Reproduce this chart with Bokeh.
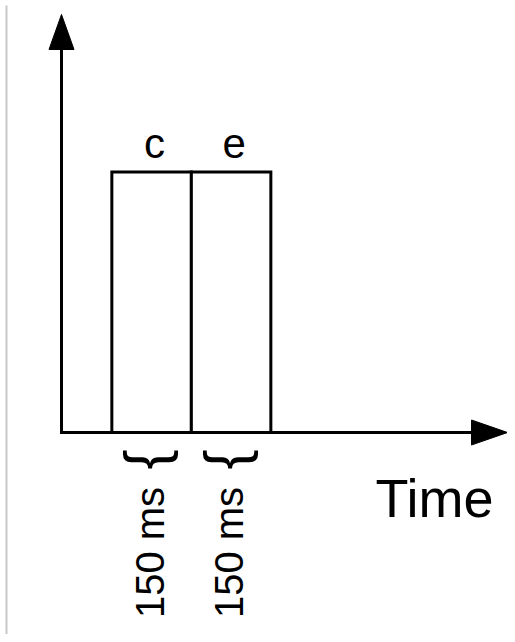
import math
from bokeh.plotting import figure
from bokeh.models import Range1d, ColumnDataSource
from bokeh.core.properties import value
from bokeh.embed import file_html
from bokeh.resources import INLINE

# ---- data ----
stimuli = ["c", "e"]
onsets_ms = [95, 245]
durations_ms = [150, 150]
amplitude = [1.0, 1.0]
duration_labels = ["150 ms", "150 ms"]
axis_label = "Time"

# ---- layout (pixel scale of the schematic) ----
W, H = 507, 634
KX = 0.53      # px per ms
KY = 260.5     # px per amplitude unit
ORIGIN_PX = (61, 432)
X0 = -ORIGIN_PX[0] / KX
X1 = X0 + W / KX
Y1 = ORIGIN_PX[1] / KY
Y0 = Y1 - H / KY

p = figure(width=W, height=H, output_backend="svg", toolbar_location=None,
           x_range=Range1d(X0, X1), y_range=Range1d(Y0, Y1),
           min_border=0, min_border_left=0, min_border_right=0,
           min_border_top=0, min_border_bottom=0)
p.axis.visible = False
p.grid.visible = False
p.outline_line_color = None
p.background_fill_color = "white"
p.border_fill_color = "white"

FONT = value("Liberation Sans")

# faint frame line at left edge
p.line([X0 + 6 / KX] * 2, [Y0, Y1 - 5 / KY], line_color="#c8c8c8", line_width=2)

# bars
lefts = [o for o in onsets_ms]
rights = [o + d for o, d in zip(onsets_ms, durations_ms)]
centers = [(l + r) / 2 for l, r in zip(lefts, rights)]
src = ColumnDataSource(dict(left=lefts, right=rights, top=amplitude,
                            bottom=[0] * len(lefts), center=centers,
                            stim=stimuli, dur=duration_labels))
p.quad(left="left", right="right", top="top", bottom="bottom", source=src,
       fill_color="white", line_color="black", line_width=3, line_join="miter")

# axes with arrows
y_tip = (ORIGIN_PX[1] - 14) / KY
x_tip = (507 - ORIGIN_PX[0]) / KX
head_len_y = 35 / KY
head_len_x = 36 / KX
half_w_x = 12.5 / KX
half_w_y = 12.5 / KY
p.line([0, 0, x_tip - head_len_x], [y_tip - head_len_y, 0, 0],
       line_color="black", line_width=3, line_join="miter")
p.patch([-half_w_x, 0, half_w_x], [y_tip - head_len_y, y_tip, y_tip - head_len_y],
        fill_color="black", line_color="black", line_width=1)
p.patch([x_tip - head_len_x, x_tip, x_tip - head_len_x], [half_w_y, 0, -half_w_y],
        fill_color="black", line_color="black", line_width=1)

# stimulus labels above bars
p.text(x="center", y="top", text="stim", source=src, text_font=FONT,
       text_font_size="42px", text_align="center", text_baseline="middle",
       x_offset=3, y_offset=-29, text_color="black")

# braces under bars
p.text(x="center", y="bottom", text=value("{"), source=src, text_font=FONT,
       text_font_size="60px", text_align="center", text_baseline="middle",
       angle=math.pi / 2, x_offset=-6, y_offset=27, text_color="black")

# duration labels (rotated)
p.text(x="center", y="bottom", text="dur", source=src, text_font=FONT,
       text_font_size="40px", text_align="center", text_baseline="middle",
       angle=math.pi / 2, x_offset=-2, y_offset=120, text_color="black")

# axis label
p.text(x=[x_tip], y=[0], text=[axis_label], text_font=FONT,
       text_font_size="54px", text_align="right", text_baseline="middle",
       x_offset=-14, y_offset=65, text_color="black")

open("out.html", "w").write(file_html(p, INLINE))
